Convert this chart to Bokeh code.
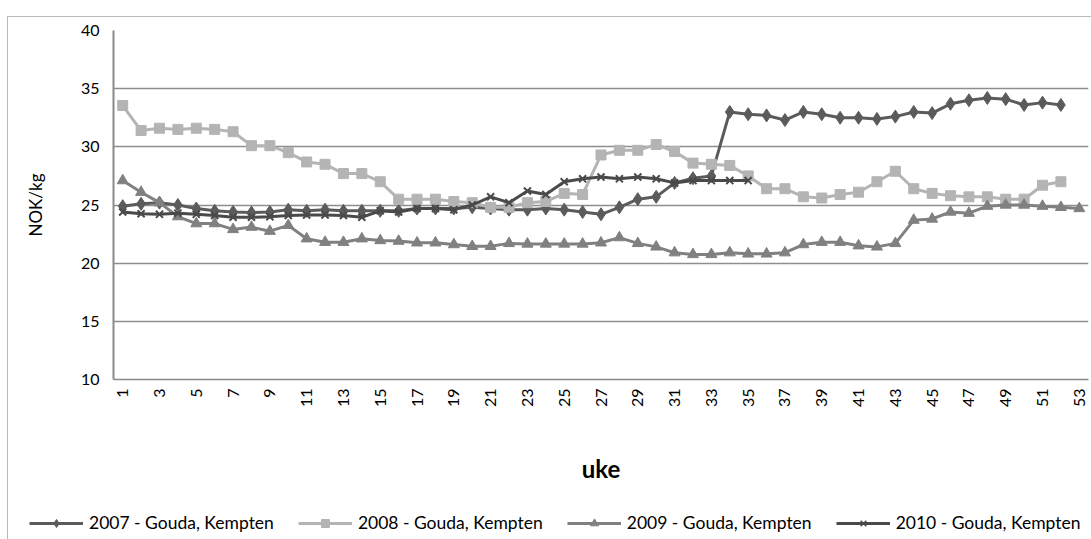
import math
from bokeh.plotting import figure
from bokeh.models import Range1d, FixedTicker, Legend, LegendItem
from bokeh.embed import file_html
from bokeh.resources import INLINE

weeks_2007 = list(range(1, 53))
weeks_2008 = list(range(1, 53))
weeks_2009 = list(range(1, 54))
weeks_2010 = list(range(1, 36))

price_2007 = [24.9, 25.1, 25.2, 25.0, 24.7, 24.5, 24.4, 24.35, 24.4, 24.6,
              24.5, 24.6, 24.5, 24.5, 24.5, 24.5, 24.7, 24.7, 24.7, 24.8,
              24.7, 24.6, 24.6, 24.7, 24.6, 24.4, 24.2, 24.8, 25.5, 25.7,
              26.9, 27.3, 27.5, 33.0, 32.8, 32.7, 32.3, 33.0, 32.8, 32.5,
              32.5, 32.4, 32.6, 33.0, 32.9, 33.7, 34.0, 34.2, 34.1, 33.6,
              33.8, 33.6]
price_2008 = [33.55, 31.4, 31.6, 31.5, 31.6, 31.5, 31.3, 30.1, 30.1, 29.5,
              28.7, 28.5, 27.7, 27.7, 27.0, 25.5, 25.5, 25.5, 25.3, 25.2,
              24.8, 24.8, 25.2, 25.3, 26.0, 25.9, 29.3, 29.7, 29.7, 30.2,
              29.6, 28.6, 28.5, 28.4, 27.5, 26.4, 26.4, 25.7, 25.6, 25.9,
              26.1, 27.0, 27.9, 26.4, 26.0, 25.8, 25.7, 25.7, 25.5, 25.5,
              26.7, 27.0]
price_2009 = [27.1, 26.1, 25.2, 24.0, 23.4, 23.4, 22.9, 23.1, 22.75, 23.25,
              22.1, 21.8, 21.8, 22.1, 21.95, 21.9, 21.75, 21.75, 21.6, 21.45,
              21.45, 21.7, 21.65, 21.65, 21.65, 21.65, 21.75, 22.2, 21.7, 21.4,
              20.9, 20.75, 20.75, 20.9, 20.8, 20.8, 20.9, 21.6, 21.8, 21.8,
              21.5, 21.4, 21.7, 23.7, 23.8, 24.4, 24.3, 24.9, 25.0, 25.0,
              24.9, 24.8, 24.7]
price_2010 = [24.4, 24.25, 24.2, 24.3, 24.2, 24.1, 23.95, 23.95, 24.0, 24.1,
              24.15, 24.15, 24.1, 23.95, 24.5, 24.4, 24.7, 24.7, 24.6, 25.0,
              25.7, 25.2, 26.2, 25.9, 27.0, 27.25, 27.4, 27.25, 27.4, 27.25,
              26.9, 27.1, 27.1, 27.1, 27.1]

series_labels = ["2007 - Gouda, Kempten", "2008 - Gouda, Kempten",
                 "2009 - Gouda, Kempten", "2010 - Gouda, Kempten"]
x_tick_labels = ["1", "3", "5", "7", "9", "11", "13", "15", "17", "19", "21",
                 "23", "25", "27", "29", "31", "33", "35", "37", "39", "41",
                 "43", "45", "47", "49", "51", "53"]
y_ticks = [10, 15, 20, 25, 30, 35, 40]
y_title = "NOK/kg"
x_title = "uke"

FONT = "Lato"
BORDER = "#b8b8b8"

p = figure(width=1091, height=502, x_range=Range1d(0.5, 53.5), y_range=Range1d(10, 40),
           output_backend="svg", toolbar_location=None,
           min_border_left=113, min_border_right=3, min_border_top=30, min_border_bottom=123,
           styles={"background": f"linear-gradient({BORDER},{BORDER}) 7px 16px / 1px 100% no-repeat, "
                                 f"linear-gradient({BORDER},{BORDER}) 7px 16px / 100% 1px no-repeat"})
p.outline_line_color = None
p.background_fill_color = "white"
p.border_fill_alpha = 0

xt = [int(t) for t in x_tick_labels]
p.xaxis.ticker = FixedTicker(ticks=xt)
p.xaxis.major_label_overrides = {int(t): t for t in x_tick_labels}
p.xaxis.major_label_orientation = math.pi / 2
p.xaxis.major_label_text_font = FONT
p.xaxis.major_label_text_font_size = "16px"
p.xaxis.major_label_text_color = "black"
p.xaxis.major_label_standoff = 9
p.xaxis.major_tick_out = 0
p.xaxis.major_tick_in = 0
p.xaxis.major_tick_line_color = None
p.xaxis.minor_tick_line_color = None
p.xaxis.axis_line_color = "#8a8a8a"
p.xaxis.axis_line_width = 1.5
p.xaxis.axis_label = x_title
p.xaxis.axis_label_text_font = FONT
p.xaxis.axis_label_text_font_style = "bold"
p.xaxis.axis_label_text_font_size = "24px"
p.xaxis.axis_label_text_color = "black"
p.xaxis.axis_label_standoff = 44

p.yaxis.ticker = FixedTicker(ticks=y_ticks)
p.yaxis.major_label_text_font = FONT
p.yaxis.major_label_text_font_size = "16px"
p.yaxis.major_label_text_color = "black"
p.yaxis.major_label_standoff = 14
p.yaxis.major_tick_out = 0
p.yaxis.major_tick_in = 0
p.yaxis.major_tick_line_color = None
p.yaxis.minor_tick_line_color = None
p.yaxis.axis_line_color = "#8a8a8a"
p.yaxis.axis_line_width = 2
p.yaxis.axis_label = y_title
p.yaxis.axis_label_text_font = FONT
p.yaxis.axis_label_text_font_style = "normal"
p.yaxis.axis_label_text_font_size = "17px"
p.yaxis.axis_label_text_color = "black"
p.yaxis.axis_label_standoff = 32

p.xgrid.grid_line_color = None
p.ygrid.grid_line_color = "#8e8e8e"
p.ygrid.grid_line_width = 1.3

styles = [
    (weeks_2007, price_2007, "#5b5b5b", "diamond", 13),
    (weeks_2008, price_2008, "#b4b4b4", "square", 10),
    (weeks_2009, price_2009, "#808080", "triangle", 11),
    (weeks_2010, price_2010, "#4a4a4a", "x", 10),
]

for xs, ys, col, mk, sz in styles:
    p.line(xs, ys, line_color=col, line_width=3)
    if mk == "x":
        p.scatter(xs, ys, marker=mk, size=sz, line_color=col, line_width=2)
    else:
        p.scatter(xs, ys, marker=mk, size=sz, fill_color=col, line_color=col)

# legend strip below the chart (separate root, so its frame spans the full width)
leg = figure(width=1091, height=37, x_range=Range1d(0, 1), y_range=Range1d(0, 1),
             output_backend="svg", toolbar_location=None, min_border=0,
             min_border_left=0, min_border_right=0, min_border_top=0, min_border_bottom=0,
             x_axis_location=None, y_axis_location=None,
             styles={"background": f"linear-gradient({BORDER},{BORDER}) 7px 0px / 1px 100% no-repeat"})
leg.outline_line_color = None
leg.grid.visible = False
leg.background_fill_alpha = 0
leg.border_fill_alpha = 0

items = []
for (xs, ys, col, mk, sz), lab in zip(styles, series_labels):
    lr = leg.line([-5, -4], [-5, -4], line_color=col, line_width=3)
    if mk == "x":
        sr = leg.scatter([-5], [-5], marker=mk, size=8, line_color=col, line_width=1.5)
    else:
        sr = leg.scatter([-5], [-5], marker=mk, size=8, fill_color=col, line_color=col)
    items.append(LegendItem(label=lab, renderers=[lr, sr]))

legend = Legend(items=items, orientation="horizontal", location=(29, 6),
                padding=0, margin=0, spacing=24, glyph_width=54, glyph_height=20,
                label_standoff=6, label_text_font=FONT, label_text_font_size="17.5px",
                label_text_color="black", background_fill_alpha=0,
                border_line_color=None)
leg.add_layout(legend, "center")

open("out.html", "w").write(file_html([p, leg], INLINE))
